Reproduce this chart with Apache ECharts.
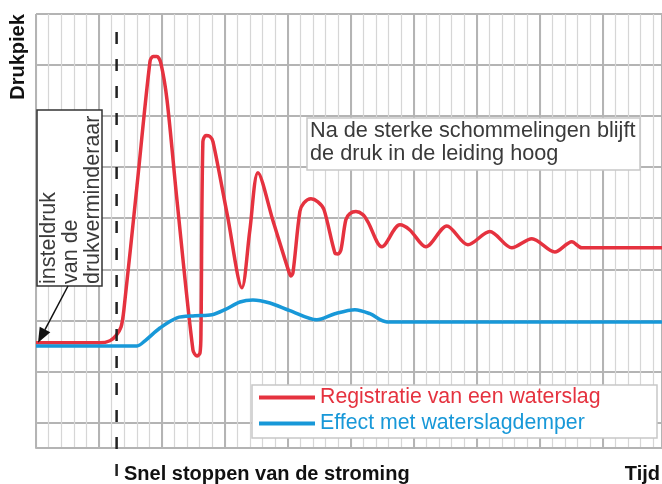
<!DOCTYPE html>
<html>
<head>
<meta charset="utf-8">
<script src="https://cdn.jsdelivr.net/npm/echarts@6/dist/echarts.min.js"></script>
<style>
  html, body { margin: 0; padding: 0; background: #fff; }
  #chart { width: 662px; height: 484px; }
</style>
</head>
<body>
<div id="chart"></div>
<script>
// time in minor grid steps, pressure in major grid steps
const timeRed = [0, 5.08, 5.87, 6.35, 6.75, 6.98, 8.02, 9.05, 9.29, 9.6, 9.92, 10.4, 11.19, 12.46, 12.78, 13.02, 13.1,
  13.25, 13.49, 13.81, 14.05, 15.2, 16.35, 16.98, 17.62, 18.85, 20.08, 20.24, 20.4, 20.95, 21.27, 21.83, 22.38, 22.86, 23.73, 23.97,
  24.21, 24.6, 24.92, 25.4, 25.95, 26.35, 27.46, 28.89, 29.68, 30.95, 32.62, 34.29, 36.03, 37.78, 39.37, 41.19,
  42.54, 43.33, 49.7];
const pressRed = [2.06, 2.06, 2.1, 2.2, 2.37, 2.71, 5.14, 7.57, 7.67, 7.67, 7.53, 6.82, 4.86, 1.92, 1.8, 1.86, 2.31,
  6.0, 6.12, 6.1, 6.0, 4.55, 3.14, 4.27, 5.39, 4.42, 3.45, 3.37, 3.43, 4.63, 4.8, 4.88, 4.82, 4.67, 3.82, 3.8,
  3.88, 4.47, 4.59, 4.63, 4.57, 4.43, 3.94, 4.37, 4.27, 3.94, 4.35, 3.98, 4.24, 3.92, 4.1, 3.84,
  4.04, 3.92, 3.92];
const timeBlue = [0, 8.02, 8.65, 9.84, 11.19, 12.62, 13.97, 15.0, 16.19, 17.22, 18.57, 20.16, 22.3, 23.73,
  25.32, 26.51, 27.86, 49.7];
const pressBlue = [2.0, 2.0, 2.1, 2.35, 2.55, 2.59, 2.61, 2.71, 2.86, 2.9, 2.84, 2.69, 2.51, 2.63,
  2.71, 2.63, 2.47, 2.47];
const stopTime = 6.4;

const seriesNames = ['Registratie van een waterslag', 'Effect met waterslagdemper'];
const seriesColors = ['#e5323f', '#1898d8'];
const axisY = 'Drukpiek';
const axisXStop = 'Snel stoppen van de stroming';
const axisXEnd = 'Tijd';
const noteText = 'Na de sterke schommelingen blijft\nde druk in de leiding hoog';
const setText = 'insteldruk\nvan de\ndrukverminderaar';

const FONT = '"Liberation Sans", Arial, Helvetica, sans-serif';
const zip = (xs, ys) => xs.map((x, i) => [x, ys[i]]);

const chart = echarts.init(document.getElementById('chart'), null, { renderer: 'canvas' });

const hidden = { axisLine: { show: false }, axisTick: { show: false }, axisLabel: { show: false } };

chart.setOption({
  animation: false,
  backgroundColor: '#fff',
  grid: { left: 36, top: 14, right: 0, bottom: 36 },
  xAxis: [
    {
      type: 'value', min: 0, max: 49.7, interval: 1, position: 'bottom',
      axisLine: { show: true, onZero: false, lineStyle: { color: '#b4b4b4', width: 2 } },
      axisTick: { show: false }, axisLabel: { show: false },
      splitLine: { show: true, lineStyle: { color: '#d6d6d6', width: 1.2 } }
    },
    {
      type: 'value', min: 0, max: 49.7, interval: 5, position: 'top', ...hidden,
      splitLine: { show: true, lineStyle: { color: '#b4b4b4', width: 2 } }
    }
  ],
  yAxis: [
    {
      type: 'value', inverse: true, min: 0, max: 8.5, interval: 1, ...hidden,
      splitLine: { show: true, lineStyle: { color: '#b4b4b4', width: 2 } }
    },
    { type: 'value', min: 0, max: 8.5, position: 'right', ...hidden, splitLine: { show: false } }
  ],
  legend: {
    orient: 'vertical', left: 259, top: 387, padding: 0, itemGap: 5,
    icon: 'rect', itemWidth: 56, itemHeight: 4, z: 20,
    textStyle: { fontFamily: FONT, fontSize: 21.3 },
    data: seriesNames.map((n, i) => ({ name: n, textStyle: { color: seriesColors[i] } }))
  },
  series: [0, 1].map(i => ({
    name: seriesNames[i],
    type: 'line',
    xAxisIndex: 0,
    yAxisIndex: 1,
    data: i === 0 ? zip(timeRed, pressRed) : zip(timeBlue, pressBlue),
    smooth: 0.3,
    showSymbol: false,
    z: 5,
    lineStyle: { color: seriesColors[i], width: 3.5 },
    itemStyle: { color: seriesColors[i] }
  }))
});

// annotations placed after layout so they follow the axes
const dashX = chart.convertToPixel({ xAxisIndex: 0 }, stopTime);
const tip = chart.convertToPixel({ seriesIndex: 0 }, [timeRed[0], pressRed[0]]);
const tail = [68, 286];
const dx = tip[0] + 2 - tail[0], dy = tip[1] - tail[1];
const len = Math.hypot(dx, dy), ux = dx / len, uy = dy / len;
const headLen = 15, headW = 6;
const hx = tip[0] + 2, hy = tip[1];
const bx = hx - ux * headLen, by = hy - uy * headLen;

chart.setOption({
  graphic: [
    {
      type: 'line', z: 10, silent: true,
      shape: { x1: dashX, y1: 32, x2: dashX, y2: 484 },
      style: { stroke: '#222', lineWidth: 2.5, lineDash: [12, 15] }
    },
    {
      type: 'rect', z: 10, silent: true,
      shape: { x: 37, y: 110, width: 65, height: 176 },
      style: { fill: '#fff', stroke: '#333', lineWidth: 1.5 }
    },
    {
      type: 'text', z: 11, silent: true, x: 38, y: 284, rotation: Math.PI / 2,
      style: {
        text: setText, fill: '#3a3a3a', fontFamily: FONT, fontSize: 21.5, lineHeight: 22,
        textAlign: 'left', textVerticalAlign: 'top'
      }
    },
    {
      type: 'line', z: 11, silent: true,
      shape: { x1: tail[0], y1: tail[1], x2: bx, y2: by },
      style: { stroke: '#111', lineWidth: 1.5 }
    },
    {
      type: 'polygon', z: 11, silent: true,
      shape: { points: [[hx, hy], [bx - uy * headW, by + ux * headW], [bx + uy * headW, by - ux * headW]] },
      style: { fill: '#111' }
    },
    {
      type: 'rect', z: 10, silent: true,
      shape: { x: 307, y: 118, width: 333, height: 52 },
      style: { fill: '#fff', stroke: '#c8c8c8', lineWidth: 1.5 }
    },
    {
      type: 'text', z: 11, silent: true, x: 310, y: 120,
      style: {
        text: noteText, fill: '#3a3a3a', fontFamily: FONT, fontSize: 21.7, lineHeight: 23,
        textAlign: 'left', textVerticalAlign: 'top'
      }
    },
    {
      type: 'rect', z: 10, silent: true,
      shape: { x: 252, y: 385, width: 405, height: 53 },
      style: { fill: '#fff', stroke: '#c8c8c8', lineWidth: 1.5 }
    },
    {
      type: 'text', z: 11, silent: true, x: 18, y: 57, rotation: Math.PI / 2,
      style: {
        text: axisY, fill: '#111', fontFamily: FONT, fontSize: 20, fontWeight: 'bold',
        textAlign: 'center', textVerticalAlign: 'middle'
      }
    },
    {
      type: 'text', z: 11, silent: true, x: 124, y: 474,
      style: {
        text: axisXStop, fill: '#111', fontFamily: FONT, fontSize: 20, fontWeight: 'bold',
        textAlign: 'left', textVerticalAlign: 'middle'
      }
    },
    {
      type: 'text', z: 11, silent: true, x: 660, y: 474,
      style: {
        text: axisXEnd, fill: '#111', fontFamily: FONT, fontSize: 20, fontWeight: 'bold',
        textAlign: 'right', textVerticalAlign: 'middle'
      }
    }
  ]
});
</script>
</body>
</html>
